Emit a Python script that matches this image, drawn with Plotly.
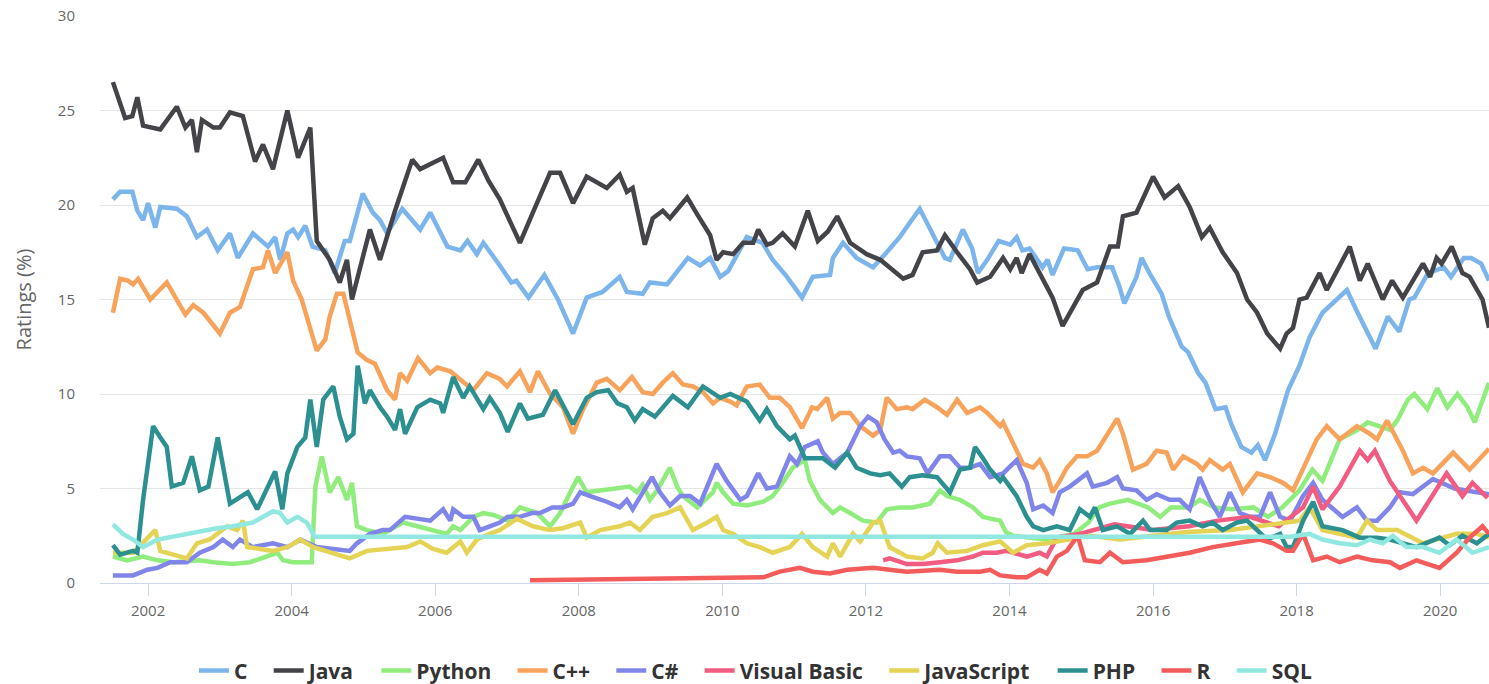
import plotly.graph_objects as go

# ---------------- data (decimal year, rating %) ----------------
c_x = [2001.51,2001.61,2001.78,2001.85,2001.93,2002.0,2002.10,2002.17,2002.40,2002.54,2002.68,2002.82,2002.97,2003.14,2003.25,2003.46,2003.67,2003.77,2003.84,2003.94,2004.02,2004.09,2004.19,2004.29,2004.47,2004.60,2004.74,2004.81,2004.99,2005.13,2005.23,2005.33,2005.54,2005.79,2005.93,2006.17,2006.35,2006.45,2006.58,2006.67,2006.90,2007.06,2007.13,2007.30,2007.52,2007.71,2007.92,2008.11,2008.33,2008.57,2008.67,2008.89,2008.99,2009.23,2009.52,2009.69,2009.83,2009.97,2010.08,2010.34,2010.56,2010.70,2010.90,2011.11,2011.26,2011.50,2011.54,2011.68,2011.87,2012.10,2012.29,2012.47,2012.75,2012.93,2013.10,2013.17,2013.35,2013.48,2013.56,2013.69,2013.85,2014.01,2014.10,2014.18,2014.28,2014.46,2014.53,2014.60,2014.76,2014.95,2015.09,2015.22,2015.43,2015.53,2015.60,2015.77,2015.84,2015.95,2016.12,2016.22,2016.40,2016.49,2016.63,2016.73,2016.87,2017.01,2017.09,2017.23,2017.37,2017.46,2017.56,2017.70,2017.88,2018.04,2018.18,2018.36,2018.55,2018.70,2018.85,2019.10,2019.27,2019.43,2019.57,2019.64,2019.83,2020.05,2020.15,2020.33,2020.43,2020.57,2020.68]
c_y = [20.3,20.7,20.7,19.7,19.2,20.1,18.8,19.9,19.8,19.4,18.3,18.7,17.6,18.5,17.2,18.5,17.8,18.3,17.1,18.5,18.7,18.3,18.9,17.8,17.6,16.4,18.1,18.1,20.6,19.6,19.2,18.5,19.8,18.7,19.6,17.8,17.6,18.1,17.4,18.0,16.8,15.9,16.0,15.1,16.3,15.0,13.2,15.1,15.4,16.2,15.4,15.3,15.9,15.8,17.2,16.8,17.2,16.2,16.5,18.3,18.0,17.1,16.2,15.1,16.2,16.3,17.2,18.0,17.2,16.7,17.5,18.3,19.8,18.5,17.2,17.1,18.7,17.7,16.4,17.1,18.1,17.9,18.3,17.6,17.7,16.7,17.1,16.3,17.7,17.6,16.6,16.7,16.7,15.7,14.8,16.2,17.2,16.4,15.3,14.1,12.5,12.2,11.1,10.6,9.2,9.3,8.4,7.2,6.9,7.3,6.5,7.9,10.2,11.5,13.0,14.3,15.0,15.5,14.3,12.4,14.1,13.3,15.0,15.1,16.4,16.7,16.2,17.2,17.2,16.9,16.0]

java_x = [2001.51,2001.68,2001.78,2001.85,2001.93,2002.17,2002.40,2002.52,2002.61,2002.68,2002.75,2002.91,2003.00,2003.14,2003.32,2003.49,2003.60,2003.74,2003.94,2004.09,2004.26,2004.35,2004.53,2004.67,2004.77,2004.84,2005.09,2005.23,2005.44,2005.68,2005.79,2006.11,2006.25,2006.42,2006.60,2006.74,2006.90,2007.04,2007.18,2007.36,2007.60,2007.74,2007.92,2008.11,2008.39,2008.57,2008.67,2008.75,2008.92,2009.03,2009.17,2009.27,2009.51,2009.65,2009.83,2009.92,2010.01,2010.15,2010.29,2010.43,2010.50,2010.62,2010.70,2010.84,2011.01,2011.19,2011.33,2011.47,2011.60,2011.78,2012.01,2012.20,2012.52,2012.65,2012.79,2012.99,2013.10,2013.27,2013.45,2013.55,2013.73,2013.91,2014.01,2014.10,2014.17,2014.28,2014.60,2014.74,2014.88,2015.02,2015.22,2015.40,2015.51,2015.58,2015.77,2016.00,2016.16,2016.35,2016.51,2016.68,2016.79,2016.97,2017.17,2017.31,2017.45,2017.59,2017.77,2017.86,2017.95,2018.04,2018.14,2018.32,2018.42,2018.74,2018.88,2018.99,2019.20,2019.33,2019.48,2019.76,2019.86,2019.95,2020.02,2020.16,2020.31,2020.41,2020.59,2020.68]
java_y = [26.5,24.6,24.7,25.7,24.2,24.0,25.2,24.1,24.5,22.8,24.5,24.1,24.1,24.9,24.7,22.3,23.2,21.9,25.0,22.5,24.1,18.1,17.1,15.9,17.1,15.0,18.7,17.1,19.7,22.4,21.9,22.5,21.2,21.2,22.4,21.3,20.3,19.1,18.0,19.6,21.7,21.7,20.1,21.5,20.9,21.6,20.7,20.9,17.9,19.3,19.7,19.3,20.4,19.5,18.4,17.1,17.5,17.4,18.0,18.0,18.7,17.9,18.0,18.5,17.8,19.7,18.1,18.6,19.4,18.0,17.4,17.1,16.1,16.3,17.5,17.6,18.4,17.5,16.6,15.9,16.2,17.2,16.6,17.2,16.4,17.4,15.1,13.6,14.6,15.5,15.9,17.8,17.8,19.4,19.6,21.5,20.4,21.0,19.9,18.3,18.8,17.5,16.4,15.0,14.3,13.2,12.4,13.2,13.5,15.0,15.1,16.4,15.5,17.8,16.0,16.9,15.0,16.0,15.1,16.9,16.2,17.2,16.9,17.8,16.4,16.2,15.0,13.5]

python_x = [2001.51,2001.71,2001.93,2002.13,2002.35,2002.72,2002.91,2003.18,2003.42,2003.66,2003.80,2003.88,2004.02,2004.28,2004.33,2004.42,2004.53,2004.65,2004.77,2004.84,2004.91,2005.05,2005.27,2005.55,2005.75,2005.97,2006.16,2006.25,2006.35,2006.53,2006.67,2006.81,2007.01,2007.18,2007.42,2007.60,2007.74,2007.88,2007.99,2008.11,2008.48,2008.71,2008.81,2008.89,2008.99,2009.09,2009.27,2009.37,2009.45,2009.65,2009.87,2009.92,2010.01,2010.15,2010.34,2010.57,2010.70,2010.84,2010.98,2011.15,2011.22,2011.36,2011.54,2011.64,2011.78,2011.96,2012.15,2012.29,2012.47,2012.65,2012.89,2013.03,2013.13,2013.31,2013.49,2013.63,2013.87,2013.95,2014.05,2014.5,2014.9,2015.1,2015.25,2015.4,2015.65,2015.93,2016.1,2016.25,2016.5,2016.65,2016.85,2017.1,2017.4,2017.6,2017.8,2018.04,2018.22,2018.36,2018.60,2018.85,2018.99,2019.3,2019.4,2019.55,2019.64,2019.82,2019.96,2020.1,2020.24,2020.38,2020.48,2020.59,2020.68]
python_y = [1.4,1.2,1.4,1.2,1.1,1.2,1.1,1.0,1.1,1.4,1.6,1.2,1.1,1.1,5.1,6.7,4.8,5.6,4.4,5.3,3.0,2.8,2.6,3.2,3.0,2.8,2.6,3.0,2.8,3.5,3.7,3.6,3.3,4.0,3.7,3.0,3.7,4.8,5.6,4.8,5.0,5.1,4.8,5.2,4.4,4.9,6.1,5.1,4.6,4.0,4.8,5.3,4.8,4.2,4.1,4.3,4.6,5.3,6.1,6.5,5.4,4.4,3.7,4.0,3.7,3.3,3.2,3.9,4.0,4.0,4.2,4.9,4.6,4.4,4.0,3.5,3.3,2.7,2.5,2.3,2.6,3.2,4.0,4.2,4.4,4.0,3.5,4.0,4.0,4.4,4.0,3.9,4.0,3.5,4.0,4.9,6.0,5.4,7.6,8.1,8.5,8.1,8.6,9.7,10.0,9.2,10.3,9.3,10.0,9.3,8.5,9.7,10.6]

cpp_x = [2001.51,2001.57,2001.61,2001.72,2001.79,2001.86,2001.99,2002.03,2002.26,2002.52,2002.63,2002.77,2003.00,2003.14,2003.28,2003.46,2003.60,2003.67,2003.77,2003.94,2004.02,2004.14,2004.35,2004.47,2004.53,2004.63,2004.72,2004.81,2004.92,2005.05,2005.16,2005.33,2005.44,2005.51,2005.61,2005.76,2005.93,2006.03,2006.21,2006.37,2006.53,2006.72,2006.90,2007.00,2007.18,2007.32,2007.43,2007.60,2007.78,2007.92,2008.06,2008.25,2008.39,2008.57,2008.74,2008.89,2009.03,2009.17,2009.31,2009.45,2009.59,2009.73,2009.87,2009.97,2010.11,2010.20,2010.34,2010.52,2010.66,2010.80,2010.94,2011.11,2011.25,2011.32,2011.46,2011.54,2011.64,2011.78,2011.92,2012.10,2012.20,2012.29,2012.43,2012.57,2012.65,2012.82,2012.99,2013.13,2013.27,2013.41,2013.59,2013.69,2013.87,2013.91,2014.05,2014.19,2014.33,2014.42,2014.52,2014.60,2014.70,2014.80,2014.94,2015.08,2015.22,2015.36,2015.50,2015.58,2015.72,2015.91,2016.05,2016.19,2016.28,2016.42,2016.61,2016.69,2016.79,2016.97,2017.07,2017.25,2017.45,2017.63,2017.81,2017.95,2018.09,2018.28,2018.42,2018.60,2018.84,2019.02,2019.12,2019.26,2019.48,2019.62,2019.76,2019.90,2020.18,2020.41,2020.68]
cpp_y = [14.3,15.5,16.1,16.0,15.8,16.1,15.3,15.0,15.9,14.2,14.7,14.3,13.2,14.3,14.6,16.6,16.7,17.6,16.4,17.5,16.0,15.0,12.3,12.9,14.1,15.3,15.3,13.9,12.2,11.8,11.6,10.2,9.7,11.1,10.7,11.9,11.1,11.4,11.2,10.7,10.2,11.1,10.8,10.4,11.2,10.1,11.2,10.0,9.3,7.9,9.2,10.6,10.8,10.2,10.9,10.1,10.0,10.6,11.1,10.5,10.4,10.1,9.5,9.8,9.6,9.4,10.4,10.5,9.8,9.8,9.3,8.2,9.3,9.2,9.8,8.7,9.0,9.0,8.3,7.8,8.1,9.8,9.2,9.3,9.2,9.7,9.3,8.9,9.7,9.0,9.3,9.0,8.3,8.5,7.4,6.3,6.1,6.5,5.8,4.8,5.4,6.1,6.7,6.7,7.0,7.9,8.7,7.9,6.0,6.3,7.0,6.9,6.0,6.7,6.3,6.0,6.5,6.0,6.3,4.8,5.8,5.6,5.3,4.9,6.1,7.6,8.3,7.6,8.3,7.9,7.6,8.6,7.0,5.8,6.1,5.8,6.9,6.0,7.1]

csharp_x = [2001.51,2001.79,2001.99,2002.13,2002.31,2002.54,2002.72,2002.91,2003.04,2003.18,2003.28,2003.46,2003.74,2003.94,2004.12,2004.35,2004.58,2004.81,2004.91,2005.09,2005.27,2005.37,2005.58,2005.75,2005.93,2006.11,2006.21,2006.25,2006.39,2006.53,2006.62,2006.76,2006.90,2007.01,2007.18,2007.35,2007.46,2007.63,2007.78,2007.92,2008.02,2008.16,2008.39,2008.57,2008.67,2008.75,2008.89,2009.02,2009.13,2009.27,2009.41,2009.55,2009.69,2009.92,2010.06,2010.25,2010.34,2010.50,2010.62,2010.76,2010.94,2011.04,2011.15,2011.33,2011.40,2011.54,2011.74,2011.92,2012.03,2012.15,2012.26,2012.38,2012.47,2012.57,2012.75,2012.86,2013.03,2013.17,2013.31,2013.45,2013.59,2013.73,2013.91,2014.10,2014.24,2014.33,2014.47,2014.60,2014.70,2014.84,2015.08,2015.16,2015.36,2015.50,2015.58,2015.77,2015.91,2016.05,2016.23,2016.37,2016.51,2016.65,2016.79,2016.93,2017.07,2017.21,2017.35,2017.49,2017.63,2017.77,2017.91,2018.09,2018.23,2018.36,2018.64,2018.84,2018.98,2019.12,2019.30,2019.44,2019.62,2019.90,2020.20,2020.50,2020.68]
csharp_y = [0.4,0.4,0.7,0.8,1.1,1.1,1.6,1.9,2.3,1.9,2.3,1.9,2.1,1.9,2.3,1.9,1.8,1.7,2.1,2.6,2.8,2.8,3.5,3.4,3.3,3.9,3.3,3.9,3.5,3.5,2.8,3.0,3.2,3.5,3.5,3.7,3.7,4.0,4.0,4.2,4.8,4.6,4.3,4.0,4.4,3.9,4.8,5.6,4.8,4.1,4.6,4.6,4.2,6.3,5.4,4.4,4.6,5.8,5.0,5.1,6.7,6.3,7.2,7.5,6.9,6.3,6.9,8.3,8.8,8.5,7.6,6.9,7.0,6.7,6.6,5.8,6.7,6.7,6.1,6.1,6.3,5.6,5.8,6.5,5.3,3.9,4.1,3.7,4.8,5.1,5.8,5.1,5.3,5.6,5.0,4.9,4.4,4.7,4.4,4.4,3.9,5.6,4.4,3.5,4.8,3.7,3.5,3.5,4.8,3.5,3.3,4.6,5.3,4.4,3.5,4.0,3.3,3.3,4.0,4.8,4.7,5.5,5.0,4.8,4.7]

vb_x = [2012.24,2012.33,2012.57,2012.79,2013.03,2013.27,2013.49,2013.63,2013.82,2013.96,2014.24,2014.42,2014.52,2014.66,2014.98,2015.46,2016.0,2016.5,2016.9,2017.35,2017.75,2017.99,2018.09,2018.23,2018.36,2018.60,2018.88,2018.99,2019.09,2019.30,2019.67,2020.09,2020.31,2020.45,2020.66]
vb_y = [1.2,1.3,1.0,1.0,1.1,1.2,1.4,1.6,1.6,1.7,1.4,1.6,1.4,2.4,2.6,3.1,2.8,3.0,3.3,3.5,3.0,3.7,4.0,5.1,3.9,5.1,7.0,6.5,7.0,5.4,3.3,5.8,4.6,5.3,4.5]

js_x = [2001.51,2001.79,2002.10,2002.17,2002.35,2002.54,2002.68,2002.86,2003.10,2003.24,2003.32,2003.38,2003.56,2003.74,2003.94,2004.12,2004.30,2004.58,2004.81,2005.05,2005.33,2005.61,2005.79,2005.97,2006.16,2006.35,2006.44,2006.58,2006.76,2006.90,2007.14,2007.36,2007.60,2007.78,2008.02,2008.11,2008.30,2008.57,2008.71,2008.85,2009.03,2009.23,2009.41,2009.51,2009.59,2009.79,2009.92,2010.01,2010.15,2010.34,2010.52,2010.70,2010.94,2011.11,2011.26,2011.46,2011.54,2011.64,2011.82,2011.92,2012.10,2012.20,2012.33,2012.57,2012.79,2012.93,2013.00,2013.13,2013.41,2013.63,2013.87,2014.05,2014.24,2014.52,2014.80,2015.12,2015.54,2015.96,2016.47,2017.07,2017.53,2017.86,2018.04,2018.18,2018.36,2018.84,2018.98,2019.12,2019.40,2019.76,2020.23,2020.51,2020.68]
js_y = [1.6,1.6,2.8,1.7,1.5,1.3,2.1,2.3,3.0,2.8,3.3,1.9,1.8,1.7,1.9,2.3,1.9,1.6,1.3,1.7,1.8,1.9,2.2,1.8,1.6,2.2,1.6,2.3,2.6,2.8,3.4,3.0,2.8,2.9,3.2,2.4,2.8,3.0,3.2,2.8,3.5,3.7,4.0,3.3,2.8,3.2,3.5,2.8,2.6,2.1,1.9,1.6,1.9,2.6,1.9,1.4,2.1,1.4,2.6,2.2,3.2,3.3,1.9,1.4,1.3,1.6,2.1,1.6,1.7,2.0,2.2,1.6,2.0,2.1,2.3,2.5,2.3,2.5,2.7,2.8,3.0,3.2,3.3,4.0,2.8,2.4,3.3,2.8,2.8,2.1,2.6,2.6,2.4]

php_x = [2001.51,2001.61,2001.79,2001.85,2001.93,2002.07,2002.17,2002.26,2002.33,2002.49,2002.61,2002.72,2002.84,2002.97,2003.14,2003.28,2003.39,2003.52,2003.66,2003.77,2003.87,2003.94,2004.08,2004.19,2004.26,2004.35,2004.44,2004.58,2004.67,2004.77,2004.86,2004.92,2005.02,2005.09,2005.23,2005.33,2005.44,2005.51,2005.58,2005.75,2005.93,2006.07,2006.11,2006.25,2006.39,2006.48,2006.67,2006.76,2006.90,2007.01,2007.18,2007.29,2007.50,2007.67,2007.92,2008.11,2008.25,2008.41,2008.54,2008.67,2008.78,2008.89,2009.06,2009.31,2009.52,2009.73,2009.97,2010.11,2010.34,2010.52,2010.62,2010.76,2010.94,2011.01,2011.15,2011.40,2011.57,2011.74,2011.87,2012.06,2012.20,2012.33,2012.50,2012.61,2012.79,2012.99,2013.17,2013.31,2013.45,2013.52,2013.63,2013.73,2013.87,2013.91,2014.10,2014.24,2014.33,2014.47,2014.66,2014.84,2014.98,2015.12,2015.19,2015.30,2015.50,2015.68,2015.86,2015.96,2016.19,2016.33,2016.51,2016.69,2016.83,2016.97,2017.17,2017.31,2017.45,2017.59,2017.77,2017.86,2017.95,2018.09,2018.23,2018.36,2018.64,2018.88,2019.12,2019.30,2019.67,2019.99,2020.13,2020.31,2020.51,2020.68]
php_y = [2.0,1.5,1.7,1.6,4.4,8.3,7.7,7.2,5.1,5.3,6.7,4.9,5.1,7.7,4.2,4.5,4.8,3.9,5.1,5.9,3.9,5.8,7.2,7.7,9.7,7.2,9.7,10.4,8.8,7.6,7.9,11.5,9.5,10.2,9.3,8.8,8.1,9.2,7.9,9.3,9.7,9.5,9.0,10.9,9.8,10.4,9.2,9.8,9.0,8.0,9.5,8.7,8.9,10.2,8.4,9.8,10.1,10.2,9.5,9.3,8.6,9.2,8.8,9.9,9.3,10.4,9.8,10.0,9.6,8.6,9.2,8.3,7.6,7.8,6.6,6.6,6.1,6.9,6.1,5.8,5.7,5.8,5.1,5.6,5.7,5.6,4.8,6.0,6.1,7.2,6.6,6.0,5.4,5.6,4.6,3.5,3.0,2.8,3.0,2.8,3.9,3.5,4.0,2.8,3.0,2.6,3.3,2.8,2.8,3.2,3.3,3.0,3.2,2.8,3.2,3.3,2.8,2.3,2.6,1.9,1.9,3.3,4.3,3.0,2.8,2.4,2.4,2.3,1.9,2.4,2.0,2.5,2.1,2.6]

r_x = [2007.32,2009.87,2010.57,2010.80,2011.08,2011.26,2011.50,2011.74,2012.10,2012.33,2012.57,2013.03,2013.27,2013.59,2013.73,2013.87,2014.10,2014.24,2014.42,2014.52,2014.66,2014.80,2014.95,2015.05,2015.26,2015.40,2015.58,2015.91,2016.19,2016.51,2016.83,2017.11,2017.31,2017.49,2017.67,2017.86,2017.95,2018.09,2018.23,2018.42,2018.60,2018.84,2019.06,2019.30,2019.44,2019.67,2019.99,2020.23,2020.41,2020.59,2020.68]
r_y = [0.15,0.25,0.3,0.6,0.8,0.6,0.5,0.7,0.8,0.7,0.6,0.7,0.6,0.6,0.7,0.4,0.3,0.3,0.7,0.5,1.4,1.7,2.5,1.2,1.1,1.6,1.1,1.2,1.4,1.6,1.9,2.1,2.2,2.3,2.1,1.7,1.7,2.6,1.2,1.4,1.1,1.4,1.2,1.1,0.8,1.2,0.8,1.6,2.4,3.0,2.6]

sql_x = [2001.51,2001.65,2001.79,2001.93,2002.13,2002.40,2002.68,2002.96,2003.18,2003.46,2003.74,2003.84,2003.94,2004.08,2004.21,2004.32,2017.91,2018.18,2018.36,2018.60,2018.84,2019.02,2019.20,2019.34,2019.53,2019.76,2019.99,2020.23,2020.45,2020.68]
sql_y = [3.1,2.6,2.3,1.9,2.3,2.5,2.7,2.9,3.0,3.2,3.8,3.7,3.2,3.5,3.2,2.45,2.45,2.6,2.3,2.1,2.0,2.3,2.1,2.5,1.9,1.9,1.6,2.3,1.6,1.9]

series = [
    ("C", c_x, c_y, "#7cb5ec"),
    ("Java", java_x, java_y, "#434348"),
    ("Python", python_x, python_y, "#90ed7d"),
    ("C++", cpp_x, cpp_y, "#f7a35c"),
    ("C#", csharp_x, csharp_y, "#8085e9"),
    ("Visual Basic", vb_x, vb_y, "#f15c80"),
    ("JavaScript", js_x, js_y, "#e4d354"),
    ("PHP", php_x, php_y, "#2b908f"),
    ("R", r_x, r_y, "#f45b5b"),
    ("SQL", sql_x, sql_y, "#91e8e1"),
]

year_ticks = [2002, 2004, 2006, 2008, 2010, 2012, 2014, 2016, 2018, 2020]
rating_ticks = [0, 5, 10, 15, 20, 25, 30]

PAD = "\u00a0" * 3  # spacing after each legend label

fig = go.Figure()
for name, xs, ys, col in series:
    fig.add_trace(go.Scatter(x=xs, y=ys, name=name + PAD, mode="lines",
                             line=dict(color=col, width=4.5)))

fig.update_layout(
    width=1489, height=684,
    margin=dict(l=100, r=0, t=16, b=101, autoexpand=False),
    plot_bgcolor="white", paper_bgcolor="white",
    font=dict(family="Open Sans, sans-serif", color="#666666"),
    showlegend=True,
    legend=dict(orientation="h", x=0.478, xanchor="center", y=-0.155, yanchor="middle",
                font=dict(family="Liberation Sans Narrow, Open Sans, sans-serif", size=21, color="#333333", weight="bold"),
                itemwidth=30, tracegroupgap=0),
    xaxis=dict(range=[2001.33, 2020.68], tickvals=year_ticks, ticktext=[str(v) for v in year_ticks],
               showgrid=False, zeroline=False, showline=True, linecolor="#ccd6eb", linewidth=1,
               ticks="outside", ticklen=12, tickcolor="#ccd6eb", ticklabelstandoff=2,
               tickfont=dict(size=15, color="#666666")),
    yaxis=dict(range=[0, 30], tickvals=rating_ticks, showgrid=True, gridcolor="#e6e6e6", gridwidth=1,
               zeroline=False, showline=False, ticks="", ticklabelstandoff=24,
               tickfont=dict(size=15, color="#666666"),
               title=dict(text="Ratings (%)", font=dict(size=20, color="#666666"), standoff=20)),
)

fig.write_html("out.html", config={"displayModeBar": False},
               post_script="document.body.style.margin='0px';")
